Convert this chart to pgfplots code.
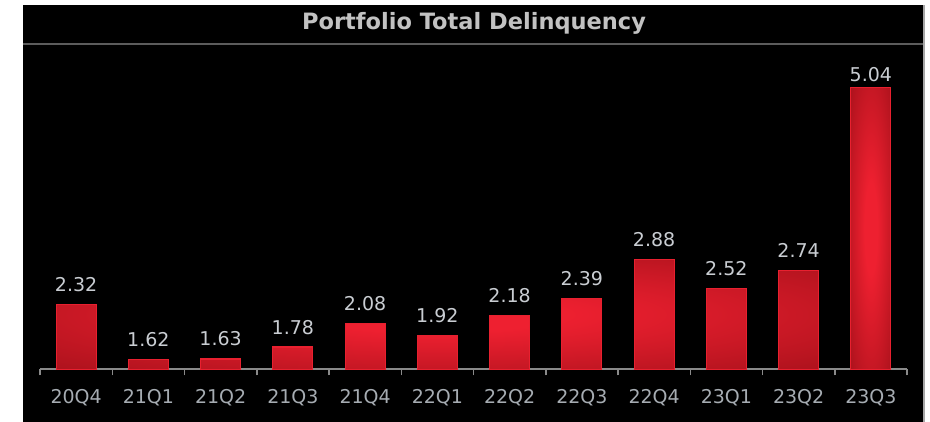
\documentclass[border=0pt]{standalone}
\usepackage{pgfplots}
\pgfplotsset{compat=1.18}
\usepackage{fontspec}
\setmainfont{DejaVu Sans}
\definecolor{barhi}{HTML}{EE2030}
\definecolor{barlo}{HTML}{9E0F18}
\definecolor{barline}{HTML}{E8202F}
\definecolor{valtxt}{HTML}{C9CDD2}
\definecolor{ticktxt}{HTML}{A6ACB2}
\definecolor{titletxt}{HTML}{C2C2C2}
\definecolor{sepline}{HTML}{5C5C5C}
\definecolor{axline}{HTML}{8A8A8A}
\pgfdeclareradialshading{barshade}{\pgfpoint{0bp}{0bp}}{color(0bp)=(barhi); color(8bp)=(barhi); color(42bp)=(barlo); color(72bp)=(barlo)}
\begin{document}
\begin{tikzpicture}
\fill[white] (0,0) rectangle (930bp,422bp);
\useasboundingbox (0,0) rectangle (930bp,422bp);
\fill[black] (23bp,0) rectangle (923bp,417bp);
\draw[sepline, line width=2bp] (23bp,378bp) -- (923bp,378bp);
\draw[gray!70, line width=2bp] (924bp,0) -- (924bp,417bp);
\node[anchor=base, text=titletxt, font=\fontsize{22.5bp}{26bp}\selectfont\bfseries] at (474bp,392bp) {Portfolio Total Delinquency};
\begin{axis}[
  at={(40bp,52.7bp)}, anchor=south west,
  scale only axis, width=867bp, height=318bp,
  xmin=-0.5, xmax=11.5, ymin=1.5, ymax=5.5,
  axis x line*=bottom, axis y line=none,
  axis line style={axline, line width=2bp, -},
  xtick={0,...,11},
  xticklabels={20Q4,21Q1,21Q2,21Q3,21Q4,22Q1,22Q2,22Q3,22Q4,23Q1,23Q2,23Q3},
  minor xtick={-0.5,0.5,...,11.5},
  major tick length=0pt, minor tick length=6bp,
  tick align=outside,
  minor tick style={axline, line width=1.5bp},
  xticklabel style={anchor=base, yshift=-34bp, text=ticktxt, font=\fontsize{19bp}{22bp}\selectfont},
  point meta=explicit symbolic,
  every node near coord/.append style={anchor=base, text=valtxt, font=\fontsize{19bp}{22bp}\selectfont},
  clip=false,
]
\addplot[ybar, bar width=40bp, bar shift=0pt, draw=barline, line width=1.2bp, shading=barshade,
  nodes near coords, every node near coord/.append style={yshift=13bp}]
  coordinates {
  (0,2.32) [2.32]
  (1,1.62) [1.62]
  (2,1.63) [1.63]
  (3,1.78) [1.78]
  (4,2.08) [2.08]
  (5,1.92) [1.92]
  (6,2.18) [2.18]
  (7,2.39) [2.39]
  (8,2.88) [2.88]
  (9,2.52) [2.52]
  (10,2.74) [2.74]
  };
\addplot[ybar, bar width=40bp, bar shift=0pt, draw=barline, line width=1.2bp, shading=barshade,
  nodes near coords, every node near coord/.append style={yshift=6bp}]
  coordinates {(11,5.04) [5.04]};
\end{axis}
\end{tikzpicture}
\end{document}
